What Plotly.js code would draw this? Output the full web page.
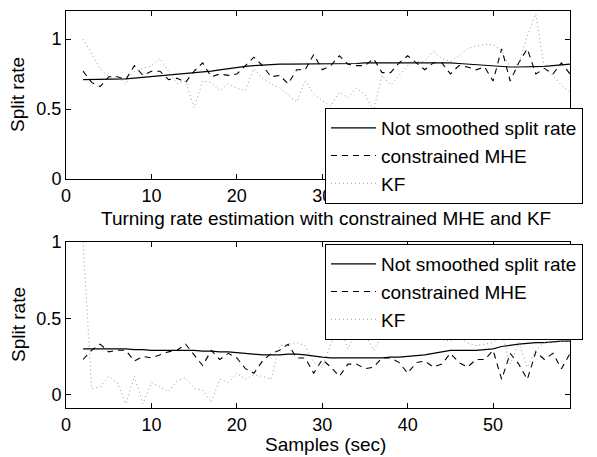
<!DOCTYPE html>
<html><head><meta charset="utf-8">
<script src="https://cdn.plot.ly/plotly-3.0.1.min.js"></script>
<style>html,body{margin:0;padding:0;background:#fff}#plot{width:597px;height:457px}</style>
</head><body><div id="plot"></div>
<script>
const samples = [2,3,4,5,6,7,8,9,10,11,12,13,14,15,16,17,18,19,20,21,22,23,24,25,26,27,28,29,30,31,32,33,34,35,36,37,38,39,40,41,42,43,44,45,46,47,48,49,50,51,52,53,54,55,56,57,58,59];

// Top panel
const topSmooth = [0.71,0.71,0.71,0.71,0.71,0.715,0.72,0.725,0.73,0.735,0.74,0.745,0.75,0.755,0.76,0.77,0.78,0.79,0.80,0.805,0.81,0.815,0.82,0.82,0.82,0.82,0.82,0.82,0.82,0.82,0.825,0.825,0.825,0.83,0.83,0.83,0.835,0.835,0.835,0.835,0.83,0.83,0.83,0.83,0.825,0.82,0.82,0.81,0.805,0.80,0.80,0.80,0.80,0.80,0.805,0.81,0.815,0.82];
const topMHE = [0.77,0.69,0.66,0.73,0.73,0.71,0.81,0.74,0.77,0.77,0.71,0.72,0.69,0.77,0.83,0.73,0.75,0.74,0.75,0.81,0.87,0.81,0.73,0.74,0.68,0.78,0.78,0.89,0.78,0.81,0.88,0.82,0.81,0.81,0.86,0.76,0.76,0.83,0.88,0.83,0.78,0.83,0.83,0.75,0.81,0.80,0.78,0.80,0.70,0.93,0.70,0.83,0.93,0.75,0.79,0.75,0.83,0.75];
const topKF = [1.0,0.89,0.79,0.73,0.73,0.68,0.77,0.79,0.81,0.86,0.77,0.68,0.70,0.51,0.70,0.69,0.63,0.68,0.65,0.63,0.79,0.72,0.68,0.65,0.60,0.55,0.70,0.61,0.56,0.52,0.62,0.58,0.65,0.60,0.49,0.74,0.67,0.74,0.81,0.84,0.84,0.91,0.86,0.84,0.88,0.93,0.95,0.96,0.96,0.92,0.79,0.83,1.02,1.18,0.79,0.74,0.67,0.62];

// Bottom panel
const botSmooth = [0.30,0.30,0.30,0.30,0.30,0.30,0.295,0.295,0.29,0.29,0.29,0.29,0.29,0.29,0.285,0.285,0.28,0.28,0.275,0.27,0.265,0.26,0.26,0.26,0.265,0.265,0.26,0.25,0.245,0.24,0.24,0.24,0.24,0.24,0.24,0.24,0.245,0.245,0.25,0.255,0.26,0.27,0.28,0.29,0.29,0.29,0.29,0.295,0.30,0.315,0.325,0.33,0.335,0.34,0.34,0.345,0.35,0.35];
const botMHE = [0.23,0.29,0.33,0.28,0.29,0.29,0.22,0.25,0.24,0.26,0.28,0.29,0.33,0.26,0.19,0.29,0.23,0.27,0.24,0.17,0.14,0.22,0.27,0.29,0.33,0.24,0.24,0.14,0.23,0.18,0.12,0.20,0.20,0.17,0.18,0.24,0.24,0.21,0.14,0.21,0.22,0.18,0.20,0.27,0.21,0.18,0.23,0.23,0.29,0.10,0.27,0.20,0.10,0.28,0.23,0.27,0.17,0.27];
const botKF = [1.0,0.04,0.05,0.12,0.08,-0.06,0.12,-0.06,0.08,0.05,0.02,0.09,0.11,0.04,0.03,-0.05,0.10,0.08,0.14,0.10,0.13,0.12,0.10,0.32,0.33,0.34,0.32,0.21,0.18,0.33,0.46,0.30,0.41,0.40,0.29,0.39,0.45,0.48,0.46,0.36,0.43,0.46,0.36,0.35,0.38,0.34,0.32,0.33,0.34,0.41,0.20,0.34,0.18,0.29,0.34,0.34,0.35,0.35];

const names = ['Not smoothed split rate', 'constrained MHE', 'KF'];
const xTicks = [0,10,20,30,40,50];
const yTicks = [0,0.5,1];
const panelTitle = 'Turning rate estimation with constrained MHE and KF';
const xLabel = 'Samples (sec)';
const yLabel = 'Split rate';

const styles = [
  {color:'#000', width:1.2, dash:'solid'},
  {color:'#000', width:1.1, dash:'6px,5px'},
  {color:'#999', width:1, dash:'1px,3px'}
];
function mk(y, i, xa, ya, leg){
  return {x: samples, y: y, type:'scatter', mode:'lines', name:names[i],
    xaxis:xa, yaxis:ya, legend:leg, line:styles[i]};
}
const data = [
  mk(topSmooth,0,'x','y','legend'), mk(topMHE,1,'x','y','legend'), mk(topKF,2,'x','y','legend'),
  mk(botSmooth,0,'x2','y2','legend2'), mk(botMHE,1,'x2','y2','legend2'), mk(botKF,2,'x2','y2','legend2')
];
const F = {family:'"Liberation Sans", Arial, sans-serif', size:19, color:'#000'};
const FT = {family:'"Liberation Sans", Arial, sans-serif', size:18, color:'#000'};
const ax = {showgrid:false, zeroline:false, showline:true, mirror:'ticks', linecolor:'#000', linewidth:1,
  ticks:'inside', ticklen:5, tickcolor:'#000', tickfont:FT};
const L = 66, R = 570, T = 11, B = 408;
const W = R - L, H = B - T;
function px(xp){ return (xp - L)/W; }
function py(yp){ return (B - yp)/H; }
const leg = {xanchor:'left', yanchor:'top', bgcolor:'#fff', bordercolor:'#000', borderwidth:1,
  font:F, tracegroupgap:0, itemwidth:45};
const layout = {
  width:597, height:457, margin:{l:L, r:597-R, t:T, b:457-B},
  paper_bgcolor:'#fff', plot_bgcolor:'#fff', font:F,
  xaxis: Object.assign({}, ax, {domain:[0,1], range:[0,59], tickvals:xTicks, anchor:'y'}),
  yaxis: Object.assign({}, ax, {domain:[py(179),1], range:[0,1.2], tickvals:yTicks, anchor:'x'}),
  xaxis2: Object.assign({}, ax, {domain:[0,1], range:[0,59], tickvals:xTicks, anchor:'y2'}),
  yaxis2: Object.assign({}, ax, {domain:[0,py(241.7)], range:[-0.087,1], tickvals:yTicks, anchor:'x2'}),
  legend: Object.assign({x:px(325), y:py(108)}, leg),
  legend2: Object.assign({x:px(325), y:py(244)}, leg),
  annotations: [
    {text:panelTitle, xref:'paper', yref:'paper', x:px(326), y:py(218), xanchor:'center', yanchor:'middle', showarrow:false, font:F},
    {text:xLabel, xref:'paper', yref:'paper', x:px(325), y:py(444), xanchor:'center', yanchor:'middle', showarrow:false, font:F},
    {text:yLabel, xref:'paper', yref:'paper', x:px(18), y:py(95), xanchor:'center', yanchor:'middle', textangle:-90, showarrow:false, font:F},
    {text:yLabel, xref:'paper', yref:'paper', x:px(18), y:py(325), xanchor:'center', yanchor:'middle', textangle:-90, showarrow:false, font:F}
  ]
};
Plotly.newPlot('plot', data, layout, {displayModeBar:false, staticPlot:true});
</script></body></html>
